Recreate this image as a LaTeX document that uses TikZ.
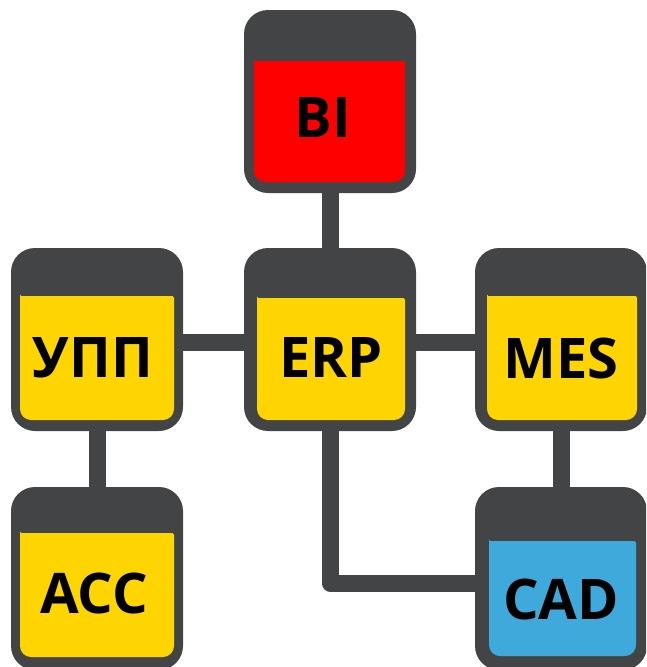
\documentclass[tikz,border=0pt]{standalone}
\usepackage{fontspec}
\setmainfont{Open Sans}
\definecolor{frame}{HTML}{434445}
\definecolor{gold}{HTML}{FFD500}
\definecolor{blueface}{HTML}{3FA9DB}
\definecolor{redface}{HTML}{FF0000}
\tikzset{
  outerbox/.style={draw=none,fill=frame,rounded corners=24pt,minimum width=172pt,minimum height=183pt,inner sep=0pt,outer sep=0pt},
  link/.style={draw=frame,line width=17pt},
  label/.style={font=\fontsize{56}{56}\selectfont\bfseries,text=black,inner sep=0pt},
}
% #1 colour, #2 left, #3 top, #4 right, #5 bottom
\newcommand{\faceplate}[5]{%
  \fill[#1] (#2,#3) [rounded corners=1.5pt] -- (#4,#3) [rounded corners=11pt] -- (#4,#5) -- (#2,#5) [rounded corners=1.5pt] -- (#2,#3) -- cycle;}
\begin{document}
\begin{tikzpicture}[x=1pt,y=-1pt]
\useasboundingbox (0,0) rectangle (646,667);
\clip (0,0) rectangle (646,667);
\node[outerbox] (bi)  at (330,101.5) {};
\node[outerbox] (erp) at (330,339.5) {};
\node[outerbox] (upp) at (97,339.5) {};
\node[outerbox] (mes) at (561,339.5) {};
\node[outerbox] (acc) at (97,578.5) {};
\node[outerbox] (cad) at (561,578.5) {};
\coordinate (elbow) at ([yshift=-4.5pt]erp.south |- cad.west);
\draw[link] (bi.south) -- (erp.north);
\draw[link] ([yshift=-2.5pt]upp.east) -- ([yshift=-2.5pt]erp.west);
\draw[link] ([yshift=-2.5pt]erp.east) -- ([yshift=-2.5pt]mes.west);
\draw[link] (upp.south) -- (acc.north);
\draw[link] (mes.south) -- (cad.north);
\draw[link,line join=round] (erp.south) -- (elbow) -- ([yshift=-4.5pt]cad.west);
\faceplate{redface}{254}{61}{405}{182}
\faceplate{gold}{257}{298}{405}{420}
\faceplate{gold}{20}{296}{174}{420}
\faceplate{gold}{487}{296}{637}{420}
\faceplate{gold}{20}{533}{174}{657}
\faceplate{blueface}{489}{541}{636}{656}
\node[label] (bit)  at (323,118) {BI};
\node[label] (erpt) at (331,358) {ERP};
\node[label] (uppt) at (93,358) {УПП};
\node[label] (mest) at (561,358) {MES};
\node[label] (acct) at (94,593) {ACC};
\node[label] (cadt) at (561,599) {CAD};
\end{tikzpicture}
\end{document}
